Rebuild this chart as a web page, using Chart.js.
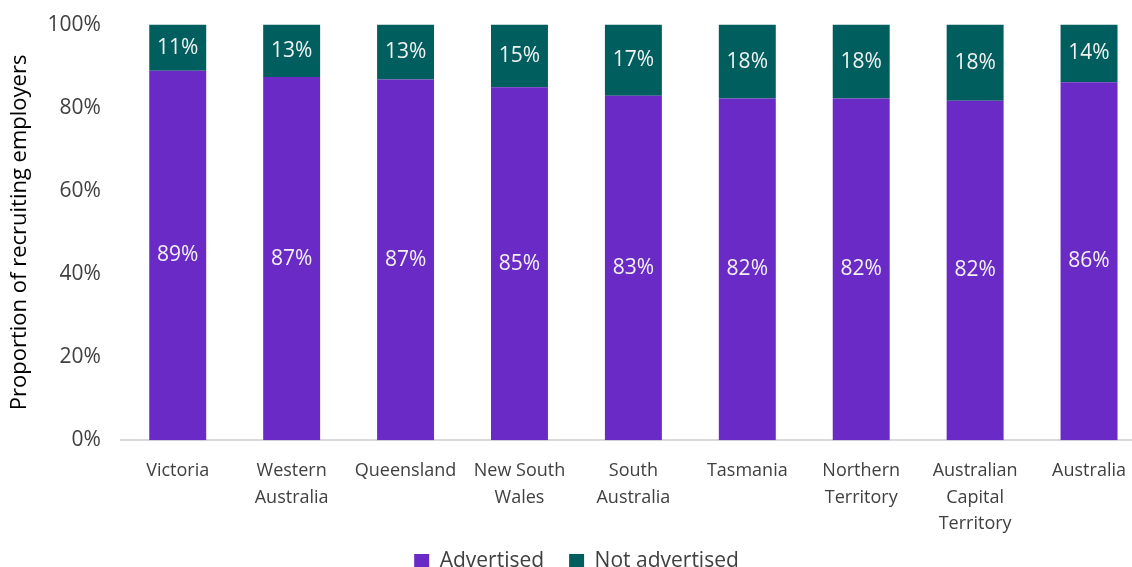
<!DOCTYPE html>
<html>
<head>
<meta charset="utf-8">
<script src="https://cdn.jsdelivr.net/npm/chart.js@4"></script>
<style>
  html, body { margin: 0; padding: 0; background: #fff; overflow: hidden; }
  #wrap { width: 1160px; height: 582px; }
</style>
</head>
<body>
<div id="wrap"><canvas id="barChart" width="1160" height="582"></canvas></div>
<script>
// data
const states = [
    "Victoria",
    ["Western", "Australia"],
    "Queensland",
    ["New South", "Wales"],
    ["South", "Australia"],
    "Tasmania",
    ["Northern", "Territory"],
    ["Australian", "Capital", "Territory"],
    "Australia",
];
const advertised = [88.9, 87.4, 86.8, 84.9, 82.9, 82.2, 82.2, 81.7, 86.1];
const notAdvertised = [11.1, 12.6, 13.2, 15.1, 17.1, 17.8, 17.8, 18.3, 13.9];
const yTicks = [0, 20, 40, 60, 80, 100];

const FONT = "'Open Sans', sans-serif";
const TEXT = "#404040";

// white value labels in the middle of every segment
const segmentLabels = {
    id: "segmentLabels",
    afterDatasetsDraw(chart) {
        const ctx = chart.ctx;
        ctx.save();
        ctx.font = "21px " + FONT;
        ctx.fillStyle = "#f2f2f2";
        ctx.textAlign = "center";
        ctx.textBaseline = "middle";
        chart.data.datasets.forEach((ds, i) => {
            chart.getDatasetMeta(i).data.forEach((bar, j) => {
                const p = bar.getProps(["x", "y", "base"], true);
                ctx.fillText(Math.round(ds.data[j]) + "%", p.x, (p.y + p.base) / 2);
            });
        });
        ctx.restore();
    },
};

const chart = new Chart(document.getElementById("barChart"), {
    type: "bar",
    data: {
        labels: states,
        datasets: [
            {
                label: "Advertised",
                data: advertised,
                backgroundColor: "#6A2AC6",
                barPercentage: 0.5,
                categoryPercentage: 1.0,
            },
            {
                label: "Not advertised",
                data: notAdvertised,
                backgroundColor: "#005E5E",
                barPercentage: 0.5,
                categoryPercentage: 1.0,
            },
        ],
    },
    options: {
        responsive: false,
        animation: false,
        devicePixelRatio: 1,
        layout: { padding: { top: 6, right: 14, left: 7, bottom: 0 } },
        plugins: {
            tooltip: { enabled: false },
            legend: {
                position: "bottom",
                labels: {
                    boxWidth: 15,
                    boxHeight: 15,
                    padding: 4,
                    color: TEXT,
                    font: { family: FONT, size: 21 },
                    generateLabels: (chart) => {
                        const items = Chart.defaults.plugins.legend.labels.generateLabels(chart);
                        items[0].text += "\u2002\u2002";
                        return items;
                    },
                },
            },
        },
        scales: {
            x: {
                stacked: true,
                grid: { display: false },
                border: { display: true, color: "#d9d9d9", width: 2 },
                ticks: {
                    color: TEXT,
                    font: { family: FONT, size: 18, lineHeight: 1.46 },
                    maxRotation: 0,
                    autoSkip: false,
                    padding: 10,
                },
            },
            y: {
                stacked: true,
                min: 0,
                max: 100,
                afterBuildTicks: (axis) => {
                    axis.ticks = yTicks.map((v) => ({ value: v }));
                },
                grid: { display: false },
                border: { display: false },
                ticks: {
                    color: TEXT,
                    font: { family: FONT, size: 21 },
                    padding: 12,
                    callback: (v) => v + "%",
                },
                title: {
                    display: true,
                    text: "Proportion of recruiting employers",
                    color: "#000",
                    font: { family: FONT, size: 22 },
                    padding: { top: 0, bottom: 2 },
                },
            },
        },
    },
    plugins: [segmentLabels],
});
</script>
</body>
</html>
